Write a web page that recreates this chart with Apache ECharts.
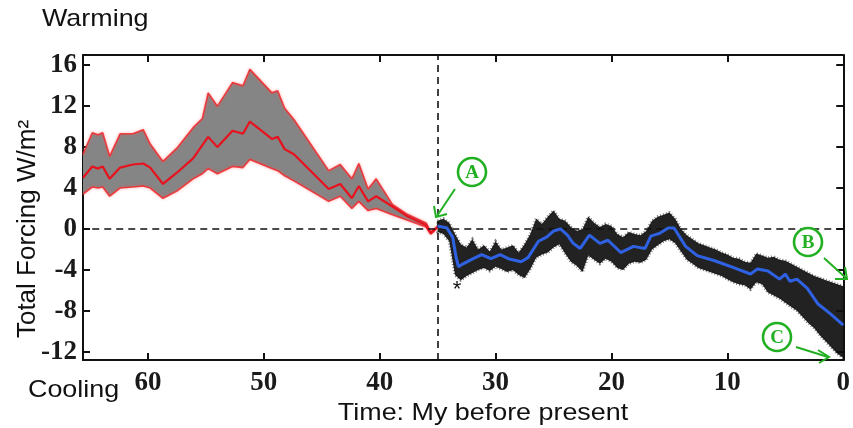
<!DOCTYPE html>
<html>
<head>
<meta charset="utf-8">
<script src="https://cdn.jsdelivr.net/npm/echarts@6/dist/echarts.min.js"></script>
<style>
  html, body { margin: 0; padding: 0; background: #fff; }
  #chart { width: 853px; height: 428px; }
</style>
</head>
<body>
<div id="chart"></div>
<script>
// tick labels
const xTicks = [0, 10, 20, 30, 40, 50, 60];
const yTicks = [-12, -8, -4, 0, 4, 8, 12, 16];

// early record (My before present) with mean and uncertainty band
const redTime  = [65.6, 64.8, 64.3, 63.9, 63.3, 62.4, 61.3, 60.4, 59.8, 58.7, 57.5, 56.1, 55.3, 54.8, 54.0, 52.7, 51.8, 51.2, 49.3, 48.8, 48.2, 47.4, 44.4, 43.4, 42.4, 41.8, 41.0, 40.3, 38.9, 37.7, 36.0, 35.6, 35.3, 35.0];
const redUpper = [7.3, 9.4, 9.2, 9.4, 7.1, 9.3, 9.3, 9.7, 8.3, 6.6, 7.9, 9.9, 10.8, 13.3, 12.0, 14.3, 14.0, 15.6, 13.3, 13.5, 11.8, 10.7, 5.7, 6.3, 4.9, 6.4, 3.9, 4.9, 2.4, 1.5, 0.6, -0.3, 0.0, 0.2];
const redMean  = [5.0, 6.1, 5.9, 6.1, 4.9, 6.0, 6.3, 6.4, 6.0, 4.4, 5.5, 6.9, 8.2, 9.0, 8.0, 9.6, 9.3, 10.5, 8.8, 9.0, 7.8, 7.3, 3.9, 4.4, 3.0, 4.2, 2.7, 3.2, 2.2, 1.3, 0.4, -0.4, -0.1, 0.2];
const redLower = [3.4, 4.1, 4.0, 4.1, 3.2, 4.0, 4.1, 4.2, 4.0, 3.0, 3.7, 4.9, 5.4, 5.9, 5.4, 6.1, 6.0, 6.8, 5.9, 5.7, 5.2, 4.7, 2.7, 3.2, 2.0, 2.7, 1.8, 2.0, 1.4, 0.9, 0.2, -0.5, -0.2, 0.2];

// later record: spread of the raw points
const noiseTime = [35, 34.5, 34, 33.5, 33, 32.5, 32, 31.5, 31, 30.5, 30, 29.5, 29, 28.5, 28, 27.5, 27, 26.5, 26, 25.5, 25, 24.5, 24, 23.5, 23, 22.5, 22, 21.5, 21, 20.5, 20, 19.5, 19, 18.5, 18, 17.5, 17, 16.5, 16, 15.5, 15, 14.5, 14, 13.5, 13, 12.5, 12, 11.5, 11, 10.5, 10, 9.5, 9, 8.5, 8, 7.5, 7, 6.5, 6, 5.5, 5, 4.5, 4, 3.5, 3, 2.5, 2, 1.5, 1, 0.5, 0];
const noiseHigh = [0.8, 1.0, 0.6, -0.5, -1.5, -1.8, -1.0, -2.0, -1.6, -2.2, -1.2, -2.0, -1.8, -1.6, -2.3, -1.5, -0.5, 1.0, 0.5, 1.2, 1.8, 1.0, 0.8, 0.2, -0.2, 0.0, 1.2, 0.6, 0.2, 0.5, 0.3, -0.5, -0.8, -0.3, -0.5, -0.6, -0.2, 0.8, 1.2, 1.4, 1.6, 1.0, 0.0, -0.6, -1.0, -1.4, -1.6, -1.8, -2.0, -2.3, -2.5, -2.8, -2.9, -3.2, -3.3, -2.4, -2.6, -2.8, -2.7, -3.0, -3.1, -3.4, -3.7, -4.0, -4.3, -4.6, -4.8, -5.0, -5.2, -5.4, -5.6];
const noiseLow  = [-0.3, -0.5, -1.2, -4.5, -5.0, -4.6, -4.3, -4.0, -3.8, -4.1, -3.7, -3.9, -4.2, -4.0, -4.5, -4.8, -3.9, -2.8, -2.5, -2.3, -1.8, -1.5, -2.4, -3.2, -3.6, -4.2, -2.6, -3.0, -3.4, -2.9, -3.2, -3.8, -4.0, -3.4, -3.2, -3.3, -3.0, -2.0, -1.6, -1.2, -1.0, -1.4, -2.2, -3.0, -3.4, -3.8, -4.0, -4.2, -4.4, -4.6, -4.9, -5.2, -5.4, -5.5, -5.9, -5.2, -5.4, -6.2, -6.5, -6.8, -7.2, -7.6, -8.0, -8.6, -9.2, -9.7, -10.4, -11.0, -11.6, -12.2, -12.6];

// smoothed later record
const blueTime = [35.0, 34.2, 33.7, 33.4, 33.2, 32.8, 32.1, 31.2, 30.4, 29.6, 28.9, 27.8, 27.2, 26.3, 25.6, 25.0, 24.4, 23.8, 23.3, 22.7, 21.9, 21.0, 20.3, 19.2, 18.1, 17.1, 16.6, 15.8, 15.1, 14.6, 13.6, 12.6, 11.1, 9.4, 8.0, 7.4, 6.5, 5.5, 5.0, 4.6, 4.0, 3.1, 2.2, 1.1, 0.1, 0.0];
const blueVal  = [0.3, 0.1, -0.8, -2.8, -3.7, -3.4, -3.0, -2.5, -2.9, -2.5, -2.9, -3.2, -2.8, -1.2, -0.8, -0.2, 0.0, -0.6, -1.4, -1.9, -0.6, -1.4, -1.1, -2.3, -1.7, -1.9, -0.7, -0.4, 0.1, 0.1, -1.7, -2.6, -3.1, -3.8, -4.4, -3.9, -4.1, -4.9, -4.4, -5.1, -4.9, -5.8, -7.3, -8.3, -9.3, -9.4];

const boundaryTime = 35;

const zip = (xs, ys) => xs.map((x, i) => [x, ys[i]]);

function bandSeries(name, ts, hi, lo, style) {
  return {
    name: name,
    type: 'custom',
    clip: true,
    data: [0],
    renderItem: function (params, api) {
      const pts = [];
      for (let i = 0; i < ts.length; i++) pts.push(api.coord([ts[i], hi[i]]));
      for (let i = ts.length - 1; i >= 0; i--) pts.push(api.coord([ts[i], lo[i]]));
      return { type: 'polygon', shape: { points: pts }, style: style };
    }
  };
}

const edgeStyle = {
  color: 'rgba(240,40,45,0.85)', width: 1.6,
  shadowColor: 'rgba(255,90,90,0.7)', shadowBlur: 3
};

const tickStyle = { color: '#111', width: 2 };
const axisLine = { show: true, onZero: false, lineStyle: { color: '#111', width: 2 } };
const labelFont = { fontFamily: 'Liberation Serif', fontSize: 27, fontWeight: 'bold', color: '#1a1a1a' };

const chart = echarts.init(document.getElementById('chart'), null, { renderer: 'canvas' });
const green = '#22b022';

function circled(letter, cx, cy) {
  return [
    { type: 'circle', shape: { cx: cx, cy: cy, r: 14 }, style: { fill: '#fff', stroke: green, lineWidth: 2.6 }, z: 20 },
    { type: 'text', x: cx, y: cy + 1, z: 21,
      style: { text: letter, fill: green, font: 'bold 19px "Liberation Serif"', align: 'center', verticalAlign: 'middle' } }
  ];
}
function arrow(x1, y1, x2, y2, head) {
  return [
    { type: 'line', z: 20, shape: { x1: x1, y1: y1, x2: x2, y2: y2 }, style: { stroke: green, lineWidth: 2 } },
    { type: 'polyline', z: 20, shape: { points: head }, style: { stroke: green, lineWidth: 2, fill: null } }
  ];
}

chart.setOption({
  animation: false,
  backgroundColor: '#fff',
  grid: { left: 83, right: 7, top: 55, bottom: 68, containLabel: false },
  xAxis: [
    {
      type: 'value', min: 0, max: 65.6, inverse: true, position: 'bottom',
      axisLine: axisLine, splitLine: { show: false },
      axisTick: { show: true, inside: true, length: 7, customValues: xTicks, lineStyle: tickStyle },
      axisLabel: Object.assign({ customValues: xTicks, margin: 10 }, labelFont)
    },
    {
      type: 'value', min: 0, max: 65.6, inverse: true, position: 'top',
      axisLine: axisLine, splitLine: { show: false },
      axisTick: { show: true, inside: true, length: 7, customValues: xTicks, lineStyle: tickStyle },
      axisLabel: { show: false }
    }
  ],
  yAxis: [
    {
      type: 'value', min: -12.8, max: 17, position: 'left',
      axisLine: axisLine, splitLine: { show: false },
      axisTick: { show: true, inside: true, length: 7, customValues: yTicks, lineStyle: tickStyle },
      axisLabel: Object.assign({ customValues: yTicks, margin: 6 }, labelFont)
    },
    {
      type: 'value', min: -12.8, max: 17, position: 'right',
      axisLine: axisLine, splitLine: { show: false },
      axisTick: { show: true, inside: true, length: 7, customValues: yTicks, lineStyle: tickStyle },
      axisLabel: { show: false }
    }
  ],
  series: [
    {
      name: 'guides', type: 'line', data: [], z: 1,
      markLine: {
        silent: true, symbol: 'none', label: { show: false },
        lineStyle: { type: [7, 5], color: '#111', width: 1.6 },
        data: [{ yAxis: 0 }, { xAxis: boundaryTime }]
      }
    },
    bandSeries('band', redTime, redUpper, redLower, { fill: '#858585' }),
    { name: 'upper', type: 'line', symbol: 'none', data: zip(redTime, redUpper), lineStyle: edgeStyle },
    { name: 'lower', type: 'line', symbol: 'none', data: zip(redTime, redLower), lineStyle: edgeStyle },
    { name: 'mean', type: 'line', symbol: 'none', data: zip(redTime, redMean), lineStyle: { color: '#e8121e', width: 2.2 } },
    bandSeries('raw', noiseTime, noiseHigh, noiseLow, {
      fill: 'rgba(15,15,15,0.92)', stroke: 'rgba(20,20,20,0.55)', lineWidth: 3, lineDash: [1, 2]
    }),
    { name: 'smooth', type: 'line', symbol: 'none', data: zip(blueTime, blueVal), lineStyle: { color: '#2f62e2', width: 3 }, z: 5 }
  ],
  graphic: [
    { type: 'text', x: 42, y: 19, scaleX: 1.12, style: { text: 'Warming', font: '24px "Liberation Sans"', fill: '#111', verticalAlign: 'middle' } },
    { type: 'text', x: 28, y: 390, scaleX: 1.12, style: { text: 'Cooling', font: '24px "Liberation Sans"', fill: '#111', verticalAlign: 'middle' } },
    { type: 'text', x: 483, y: 413, scaleX: 1.12, style: { text: 'Time: My before present', font: '24px "Liberation Sans"', fill: '#111', align: 'center', verticalAlign: 'middle' } },
    { type: 'text', x: 28, y: 229, rotation: Math.PI / 2, style: { text: 'Total Forcing W/m²', font: '26px "Liberation Sans"', fill: '#111', align: 'center', verticalAlign: 'middle' } },
    { type: 'text', x: 457, y: 290, style: { text: '*', font: '22px "Liberation Sans"', fill: '#111', align: 'center', verticalAlign: 'middle' } }
  ]
    .concat(circled('A', 472, 172))
    .concat(arrow(455, 189, 437, 216, [[434, 206], [436, 217], [447, 214]]))
    .concat(circled('B', 808, 242))
    .concat(arrow(824, 258, 846, 278, [[835, 279], [847, 279], [845, 267]]))
    .concat(circled('C', 777, 337))
    .concat(arrow(796, 347, 828, 357, [[818, 350], [829, 357], [819, 363]]))
});
</script>
</body>
</html>
